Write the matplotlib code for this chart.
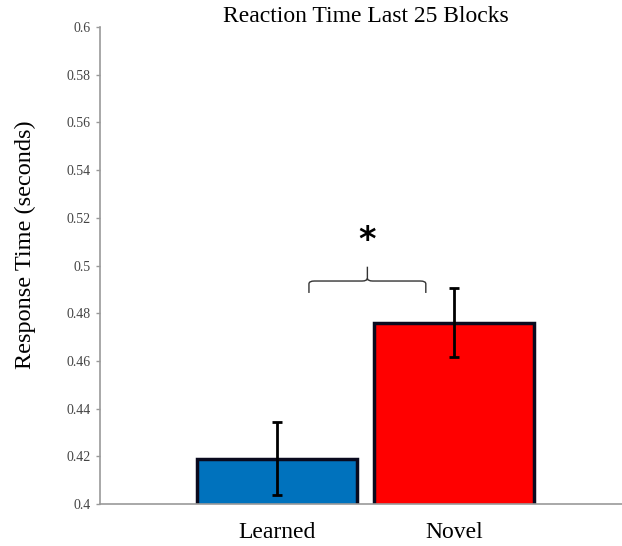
import matplotlib
matplotlib.use('Agg')
import matplotlib.pyplot as plt
from matplotlib.path import Path
from matplotlib.patches import PathPatch

# mean response times and standard errors
conditions = ['Learned', 'Novel']
mean_rt = [0.419, 0.476]
sem_rt = [0.0153, 0.0145]
bar_colors = ['#0072BD', '#FF0000']
yticks = [0.4, 0.42, 0.44, 0.46, 0.48, 0.5, 0.52, 0.54, 0.56, 0.58, 0.6]

plt.rcParams['font.family'] = ['Liberation Serif', 'DejaVu Serif']

fig = plt.figure(figsize=(6.22, 5.46), dpi=100)
ax = fig.add_axes([0.1608, 0.0769, 0.854, 0.8736])

x = [1, 2]
ax.bar(x, mean_rt, width=0.9, color=bar_colors, edgecolor='#0a0a1e', linewidth=2.5, zorder=2)
ax.errorbar(x, mean_rt, yerr=sem_rt, fmt='none', ecolor='black', elinewidth=2, capsize=3.5, capthick=2, zorder=3)

ax.set_xlim(0, 3)
ax.set_ylim(0.4, 0.6)
ax.set_yticks(yticks)
ax.set_yticklabels(['%g' % v for v in yticks], fontsize=10, color='#444444')
ax.set_xticks(x)
ax.set_xticklabels(conditions, fontsize=17)
ax.tick_params(axis='x', length=0, pad=13)
ax.tick_params(axis='y', direction='out', length=3, color='#999999', width=1)
for s in ['top', 'right']:
    ax.spines[s].set_visible(False)
for s in ['left', 'bottom']:
    ax.spines[s].set_color('#999999')
    ax.spines[s].set_linewidth(1.2)

ax.set_ylabel('Response Time (seconds)', fontsize=17.5)
ax.yaxis.set_label_coords(-0.12, 0.543)
ax.set_title('Reaction Time Last 25 Blocks', fontsize=17, pad=0)

# significance brace
x0, x1 = 1.18, 1.84
xm = (x0 + x1) / 2
y_tip, y_h, y_top = 0.4885, 0.4935, 0.4995
r = 0.03
c = 0.0012
verts = [
    (x0, y_tip), (x0, y_h - c), (x0, y_h), (x0 + r, y_h),
    (xm - r, y_h), (xm, y_h), (xm, y_h + c), (xm, y_top),
    (xm, y_h + c), (xm, y_h), (xm + r, y_h),
    (x1 - r, y_h), (x1, y_h), (x1, y_h - c), (x1, y_tip),
]
codes = [Path.MOVETO, Path.LINETO, Path.CURVE3, Path.CURVE3,
         Path.LINETO, Path.CURVE3, Path.CURVE3, Path.LINETO,
         Path.MOVETO, Path.CURVE3, Path.CURVE3,
         Path.LINETO, Path.CURVE3, Path.CURVE3, Path.LINETO]
ax.add_patch(PathPatch(Path(verts, codes), facecolor='none', edgecolor='#333333', lw=1))
ax.text(xm, 0.5105, '*', ha='center', va='center', fontsize=24, fontweight='bold', family='DejaVu Sans')

fig.savefig('out.png', dpi=100)
